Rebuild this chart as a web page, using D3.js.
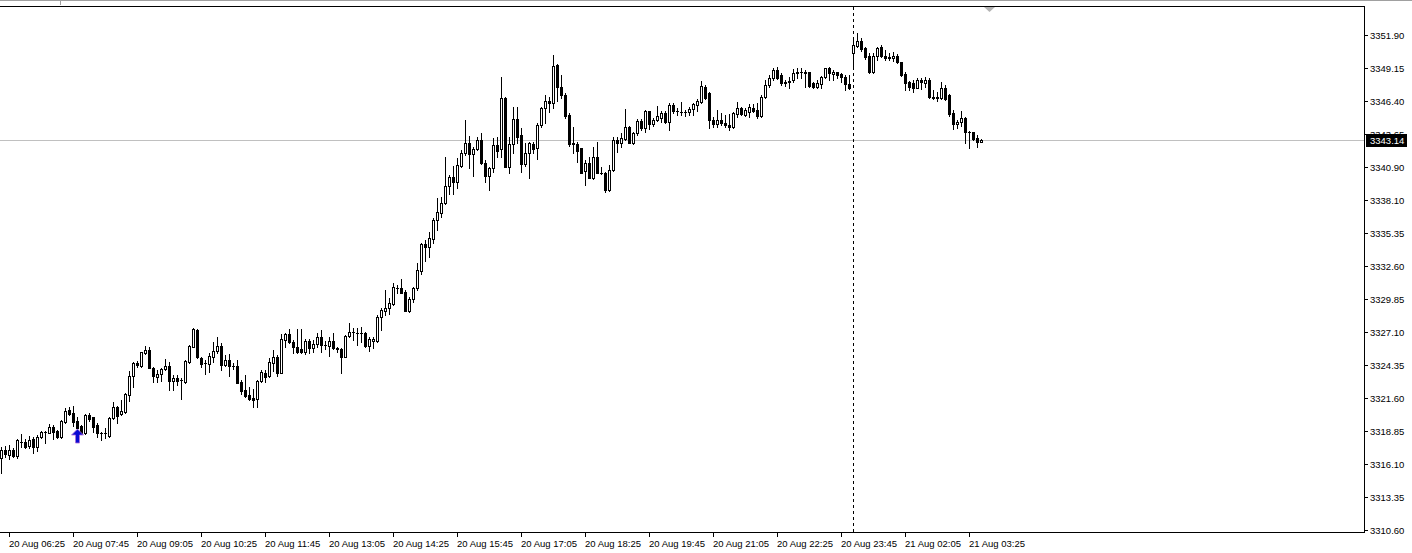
<!DOCTYPE html>
<html>
<head>
<meta charset="utf-8">
<script src="https://cdn.jsdelivr.net/npm/d3@7"></script>
<style>
  html, body { margin: 0; padding: 0; background: #fff; }
  svg { display: block; }
</style>
</head>
<body>
<div id="chart"></div>
<script>
// XAUUSD M5, 20 Aug 06:15 -> 21 Aug 03:40 (bar index 0..245)
const opens = [3316.61,3317.28,3316.86,3317.28,3316.78,3317.94,3317.94,3317.61,3318.20,3317.53,
3318.37,3318.78,3318.70,3319.20,3318.87,3318.37,3319.61,3320.61,3320.36,3319.70,
3319.28,3318.70,3320.19,3320.03,3319.36,3318.70,3318.70,3318.45,3319.95,3320.86,
3320.28,3320.44,3321.86,3323.45,3324.54,3324.29,3325.37,3325.62,3324.12,3323.37,
3323.62,3324.04,3324.29,3323.04,3323.29,3323.12,3322.95,3324.62,3325.87,3327.29,
3324.95,3324.54,3324.45,3325.04,3325.54,3325.95,3324.37,3324.79,3324.29,3324.29,
3322.95,3322.28,3321.86,3321.62,3321.53,3323.04,3323.70,3323.45,3324.54,3325.04,
3323.70,3326.45,3326.95,3326.28,3325.87,3325.70,3325.45,3326.37,3325.79,3326.12,
3326.70,3326.03,3325.95,3326.37,3325.79,3325.70,3325.04,3326.78,3327.12,3327.04,
3327.04,3327.04,3325.95,3326.37,3326.37,3328.37,3328.87,3329.12,3329.46,3330.80,
3330.80,3330.46,3328.87,3329.87,3330.80,3332.21,3334.46,3334.21,3334.88,3336.47,
3337.05,3337.88,3339.30,3340.05,3339.63,3340.97,3342.06,3342.89,3341.97,3342.39,
3343.14,3341.22,3340.14,3340.80,3342.72,3342.39,3346.65,3340.89,3342.81,3344.89,
3343.56,3341.14,3342.06,3342.81,3342.47,3344.39,3345.81,3346.40,3346.23,3349.40,
3347.56,3346.90,3345.23,3342.89,3342.81,3342.47,3340.55,3341.22,3339.97,3341.72,
3340.39,3340.39,3338.97,3340.64,3343.14,3342.89,3343.22,3344.22,3342.89,3343.72,
3344.72,3344.14,3345.56,3344.47,3344.81,3344.97,3345.39,3344.64,3346.06,3345.56,
3345.48,3345.48,3345.48,3345.73,3346.06,3346.31,3347.56,3347.06,3344.81,3344.47,
3344.81,3344.56,3344.39,3344.22,3345.31,3345.81,3345.23,3345.48,3345.81,3345.64,
3345.14,3346.73,3347.73,3348.32,3348.98,3348.57,3347.98,3348.07,3348.15,3348.73,
3348.82,3348.73,3348.82,3347.90,3347.56,3347.81,3348.40,3349.15,3348.65,3348.82,
3348.65,3348.40,3347.81,3350.40,3350.98,3351.40,3350.82,3350.15,3348.82,3350.15,
3350.90,3350.15,3350.07,3349.98,3350.15,3349.65,3348.65,3347.98,3347.90,3347.48,
3348.15,3347.90,3348.15,3346.73,3346.65,3346.65,3347.48,3346.90,3345.39,3344.47,
3344.64,3344.97,3343.81,3343.81,3343.31,3342.98];

const highs = [3317.53,3317.61,3317.69,3317.44,3318.20,3318.62,3318.20,3318.45,3318.37,3318.53,
3318.87,3318.87,3319.45,3319.36,3318.95,3319.78,3320.78,3320.86,3320.94,3320.03,
3319.36,3320.28,3320.36,3320.03,3319.53,3318.78,3319.11,3320.03,3321.28,3320.94,
3321.45,3322.03,3323.87,3324.62,3324.70,3325.45,3325.95,3325.87,3324.20,3323.95,
3324.12,3324.87,3324.62,3323.54,3323.54,3323.29,3324.79,3326.03,3327.45,3327.37,
3325.04,3324.79,3325.37,3326.28,3326.70,3326.20,3325.20,3325.29,3324.54,3324.79,
3323.12,3323.54,3322.53,3322.36,3323.12,3323.95,3323.95,3324.95,3325.62,3325.20,
3326.95,3327.04,3327.37,3326.45,3327.37,3327.37,3326.53,3326.53,3326.45,3327.04,
3327.29,3326.37,3326.70,3327.04,3325.87,3325.79,3326.87,3327.87,3327.45,3327.45,
3327.54,3327.12,3326.70,3326.70,3328.54,3329.12,3330.63,3329.96,3331.21,3331.05,
3331.54,3330.63,3330.04,3330.88,3332.88,3334.55,3334.80,3335.46,3336.63,3338.30,
3338.38,3341.72,3340.22,3340.97,3341.64,3342.31,3344.81,3343.47,3342.56,3343.39,
3343.72,3341.47,3340.89,3343.31,3343.39,3348.40,3346.73,3343.39,3345.89,3345.89,
3344.14,3342.89,3342.98,3342.98,3344.56,3345.89,3346.90,3346.73,3350.23,3349.48,
3348.57,3347.06,3345.39,3344.22,3342.98,3342.47,3341.47,3341.72,3342.56,3342.98,
3340.89,3340.47,3341.05,3343.39,3343.39,3343.72,3345.73,3344.31,3343.81,3344.89,
3344.89,3345.64,3345.56,3344.97,3345.98,3345.56,3345.56,3346.23,3346.23,3345.81,
3346.31,3345.64,3345.89,3346.23,3346.56,3348.07,3347.73,3347.15,3345.06,3345.64,
3345.39,3345.23,3345.31,3345.48,3346.31,3345.89,3345.81,3346.15,3346.15,3346.23,
3346.90,3348.15,3348.57,3349.15,3349.23,3348.73,3348.15,3348.40,3349.06,3349.15,
3349.15,3348.98,3348.82,3347.98,3348.15,3348.48,3349.15,3349.23,3348.98,3348.82,
3348.73,3348.57,3348.57,3351.48,3352.07,3351.65,3350.90,3350.40,3350.40,3350.90,
3351.07,3350.65,3350.40,3350.48,3350.32,3349.65,3348.82,3348.07,3348.15,3348.32,
3348.32,3348.40,3348.32,3347.31,3347.14,3347.98,3347.73,3346.98,3345.64,3344.81,
3345.56,3345.06,3343.89,3343.81,3343.56,3343.22];

const lows = [3315.36,3316.70,3316.53,3316.70,3316.61,3317.53,3317.44,3317.44,3317.03,3317.20,
3318.28,3317.86,3318.70,3318.20,3318.28,3318.28,3319.53,3320.19,3319.28,3319.11,
3318.62,3318.62,3319.70,3318.78,3318.37,3318.11,3318.28,3318.37,3319.86,3319.53,
3320.19,3320.36,3321.37,3322.53,3324.20,3324.20,3325.29,3324.12,3322.95,3322.95,
3323.04,3323.95,3322.28,3322.28,3322.70,3321.53,3322.87,3324.54,3325.87,3324.95,
3324.20,3323.62,3323.79,3324.62,3325.37,3323.95,3324.29,3323.45,3324.04,3322.87,
3321.95,3321.70,3321.45,3320.86,3320.86,3322.95,3322.95,3323.37,3323.87,3323.45,
3323.70,3325.87,3326.20,3325.37,3325.37,3325.37,3325.29,3325.37,3325.45,3325.87,
3325.45,3325.70,3325.12,3325.70,3325.45,3323.70,3325.04,3326.70,3326.45,3326.03,
3326.28,3325.87,3325.54,3325.79,3326.28,3327.29,3328.54,3328.62,3329.37,3330.38,
3330.38,3328.87,3328.79,3329.62,3330.63,3331.96,3333.05,3333.38,3334.55,3335.63,
3336.72,3337.80,3338.63,3338.63,3339.13,3340.89,3341.89,3340.80,3340.14,3342.31,
3341.14,3339.63,3338.97,3340.47,3341.72,3341.72,3340.89,3340.39,3342.06,3342.89,
3340.47,3340.97,3339.97,3342.06,3341.55,3344.22,3344.56,3345.48,3345.81,3346.40,
3346.65,3344.97,3342.64,3342.06,3341.31,3340.39,3339.39,3339.97,3339.89,3340.39,
3340.30,3338.80,3338.88,3340.55,3342.14,3342.56,3343.14,3342.89,3342.81,3343.56,
3343.97,3343.81,3344.06,3344.31,3344.72,3344.64,3344.56,3343.97,3345.39,3345.23,
3345.23,3345.14,3345.23,3345.23,3345.56,3346.23,3346.56,3344.14,3344.22,3344.22,
3344.39,3344.22,3343.97,3344.14,3345.06,3345.23,3345.14,3345.06,3345.48,3344.97,
3345.06,3346.65,3347.56,3348.15,3348.23,3347.73,3347.65,3347.48,3347.98,3348.32,
3348.32,3347.56,3347.56,3347.48,3347.48,3347.48,3348.32,3348.15,3348.15,3348.32,
3347.98,3347.31,3347.39,3349.15,3350.90,3350.57,3349.90,3348.73,3348.73,3349.81,
3350.07,3349.81,3349.81,3349.73,3349.56,3348.49,3347.31,3347.31,3347.15,3347.48,
3347.39,3347.56,3346.65,3346.56,3346.40,3346.56,3346.48,3345.14,3344.06,3344.14,
3344.31,3342.89,3342.47,3343.14,3342.56,3342.98];

const closes = [3317.28,3316.95,3317.28,3316.78,3318.11,3317.94,3317.53,3318.11,3317.53,3318.37,
3318.78,3318.78,3319.20,3318.78,3318.37,3319.70,3320.53,3320.28,3319.61,3319.11,
3318.70,3320.19,3319.86,3319.20,3318.70,3318.70,3318.70,3319.95,3320.86,3320.11,
3320.53,3321.95,3323.45,3324.54,3324.37,3325.45,3325.62,3324.12,3323.45,3323.62,
3324.04,3324.29,3323.04,3323.29,3323.04,3323.12,3324.70,3325.95,3327.37,3325.04,
3324.45,3324.54,3325.12,3325.54,3325.95,3324.37,3324.79,3324.29,3324.29,3322.87,
3322.20,3321.78,3321.53,3321.45,3323.04,3323.79,3323.37,3324.62,3325.04,3323.70,
3326.53,3326.95,3326.28,3325.87,3325.45,3325.45,3326.37,3325.79,3326.12,3326.70,
3326.03,3326.03,3326.37,3325.79,3325.70,3325.04,3326.78,3327.12,3327.12,3327.04,
3327.04,3325.95,3326.53,3326.53,3328.37,3328.96,3329.12,3329.54,3330.88,3330.80,
3330.38,3328.87,3329.87,3330.80,3332.29,3334.46,3334.21,3334.96,3336.47,3337.13,
3337.88,3339.30,3340.05,3339.63,3341.05,3342.06,3342.89,3341.97,3342.39,3343.14,
3341.22,3340.14,3340.80,3342.72,3342.22,3346.65,3340.89,3342.81,3344.89,3343.39,
3341.14,3342.06,3342.89,3342.39,3344.39,3345.81,3346.40,3346.23,3349.31,3347.56,
3346.90,3345.14,3342.81,3342.81,3342.22,3340.39,3341.22,3339.97,3341.72,3340.39,
3340.39,3338.97,3340.64,3343.14,3342.89,3343.31,3344.22,3342.89,3343.72,3344.72,
3344.14,3345.56,3344.47,3344.81,3345.14,3345.39,3344.64,3346.06,3345.56,3345.56,
3345.48,3345.48,3345.73,3346.15,3346.40,3347.65,3346.65,3344.81,3344.47,3344.81,
3344.56,3344.39,3344.22,3345.39,3345.81,3345.31,3345.64,3345.89,3345.56,3345.14,
3346.73,3347.73,3348.32,3348.98,3348.32,3347.90,3347.90,3347.98,3348.73,3348.82,
3348.82,3348.82,3347.65,3347.56,3347.90,3348.40,3349.15,3348.73,3348.82,3348.57,
3348.40,3347.81,3347.48,3351.07,3351.40,3350.73,3350.07,3348.82,3350.15,3350.82,
3350.15,3349.98,3349.98,3350.15,3349.65,3348.57,3347.90,3347.56,3347.48,3348.15,
3347.98,3348.15,3346.73,3346.65,3346.73,3347.48,3346.56,3345.31,3344.47,3344.64,
3344.97,3343.81,3343.81,3343.22,3342.98,3343.14];

const priceTicks = ["3351.90","3349.15","3346.40","3343.65","3340.90","3338.10","3335.35","3332.60",
  "3329.85","3327.10","3324.35","3321.60","3318.85","3316.10","3313.35","3310.60"];

const timeLabels = ["20 Aug 06:25","20 Aug 07:45","20 Aug 09:05","20 Aug 10:25","20 Aug 11:45",
  "20 Aug 13:05","20 Aug 14:25","20 Aug 15:45","20 Aug 17:05","20 Aug 18:25","20 Aug 19:45",
  "20 Aug 21:05","20 Aug 22:25","20 Aug 23:45","21 Aug 02:05","21 Aug 03:25"];
const timeLabelBars = [2,18,34,50,66,82,98,114,130,146,162,178,194,210,226,242];

const bidPrice = 3343.14;
const separatorBar = 213;   // first bar of 21 Aug
const arrowBar = 19;
const arrowPrice = 3319.05;

const W = 1412, H = 553;
const plotRight = 1364, plotTop = 6, plotBottom = 532;
const fontFamily = "'Liberation Sans', Arial, sans-serif";

const bars = closes.map((c, i) => ({ i: i, o: opens[i], h: highs[i], l: lows[i], c: c }));

const svg = d3.select("#chart")
  .append("svg")
  .attr("width", W)
  .attr("height", H)
  .attr("shape-rendering", "crispEdges");

svg.append("rect").attr("width", W).attr("height", H).attr("fill", "#fff");

const x = d3.scaleLinear()
  .domain([0, bars.length - 1])
  .range([1, 1 + 4 * (bars.length - 1)]);

const y = d3.scaleLinear()
  .domain([3310.60, 3351.90])
  .range([530, 35]);

const py = v => Math.round(y(v));

// top window edge + frame
svg.append("line")
  .attr("x1", 0).attr("x2", W).attr("y1", 0.5).attr("y2", 0.5)
  .attr("stroke", "#a0a0a0");
svg.append("line")
  .attr("x1", 60.5).attr("x2", 60.5).attr("y1", 0).attr("y2", 5)
  .attr("stroke", "#a0a0a0");

const frame = svg.append("g").attr("stroke", "#000").attr("fill", "none");
frame.append("path")
  .attr("d", `M0,${plotTop + 0.5}H${plotRight + 0.5}V${plotBottom + 0.5}H0`);

// chart shift marker
svg.append("path")
  .attr("d", `M984,${plotTop + 1}L995,${plotTop + 1}L989.5,${plotTop + 6}Z`)
  .attr("fill", "#b4b4b4")
  .attr("shape-rendering", "auto");

// bid line
svg.append("line")
  .attr("x1", 0).attr("x2", plotRight)
  .attr("y1", py(bidPrice) + 0.5).attr("y2", py(bidPrice) + 0.5)
  .attr("stroke", "#c0c0c0");

// day separator
svg.append("line")
  .attr("x1", x(separatorBar) + 0.5).attr("x2", x(separatorBar) + 0.5)
  .attr("y1", plotTop + 1).attr("y2", plotBottom)
  .attr("stroke", "#000")
  .attr("stroke-dasharray", "3,3");

// candles
const candles = svg.append("g").attr("class", "candles");

candles.selectAll("line.wick")
  .data(bars)
  .join("line")
  .attr("class", "wick")
  .attr("x1", d => x(d.i) + 0.5)
  .attr("x2", d => x(d.i) + 0.5)
  .attr("y1", d => py(d.h))
  .attr("y2", d => py(d.l) + 1)
  .attr("stroke", "#000");

candles.selectAll("rect.body")
  .data(bars.filter(d => py(d.o) !== py(d.c)))
  .join("rect")
  .attr("class", "body")
  .attr("x", d => x(d.i) - 0.5)
  .attr("y", d => Math.min(py(d.o), py(d.c)) + 0.5)
  .attr("width", 2)
  .attr("height", d => Math.abs(py(d.o) - py(d.c)))
  .attr("fill", d => d.c > d.o ? "#fff" : "#000")
  .attr("stroke", "#000");

candles.selectAll("line.doji")
  .data(bars.filter(d => py(d.o) === py(d.c)))
  .join("line")
  .attr("class", "doji")
  .attr("x1", d => x(d.i) - 1)
  .attr("x2", d => x(d.i) + 2)
  .attr("y1", d => py(d.c) + 0.5)
  .attr("y2", d => py(d.c) + 0.5)
  .attr("stroke", "#000");

// buy arrow
const ax = x(arrowBar) + 0.5, ay = py(arrowPrice);
svg.append("path")
  .attr("d", `M${ax},${ay} L${ax + 6},${ay + 6} L${ax + 2},${ay + 6} L${ax + 2},${ay + 14} L${ax - 2},${ay + 14} L${ax - 2},${ay + 6} L${ax - 6},${ay + 6} Z`)
  .attr("fill", "#0a0ad2")
  .attr("stroke", "#b070d8")
  .attr("stroke-width", 0.8)
  .attr("shape-rendering", "auto");

// price axis
const yAxis = svg.append("g")
  .attr("transform", `translate(${plotRight},0)`)
  .attr("font-family", fontFamily)
  .attr("font-size", "9.5px");

const tickG = yAxis.selectAll("g.tick")
  .data(priceTicks)
  .join("g")
  .attr("class", "tick")
  .attr("transform", d => `translate(0,${py(+d)})`);
tickG.append("line")
  .attr("x1", 0).attr("x2", 4)
  .attr("y1", 0.5).attr("y2", 0.5)
  .attr("stroke", "#000");
tickG.append("text")
  .attr("x", 6)
  .attr("y", 4)
  .attr("fill", "#000")
  .text(d => d);

// current price label
const bidY = py(bidPrice);
yAxis.append("rect")
  .attr("x", 2).attr("y", bidY - 6)
  .attr("width", 41).attr("height", 13)
  .attr("fill", "#000");
yAxis.append("text")
  .attr("x", 6).attr("y", bidY + 4)
  .attr("fill", "#fff")
  .text(bidPrice.toFixed(2));

// time axis
const xAxis = svg.append("g")
  .attr("font-family", fontFamily)
  .attr("font-size", "9.5px");

const xt = xAxis.selectAll("g.tick")
  .data(timeLabels)
  .join("g")
  .attr("class", "tick")
  .attr("transform", (d, k) => `translate(${x(timeLabelBars[k])},${plotBottom})`);
xt.append("line")
  .attr("x1", 0.5).attr("x2", 0.5)
  .attr("y1", 0).attr("y2", 5)
  .attr("stroke", "#000");
xt.append("text")
  .attr("x", 0)
  .attr("y", 15)
  .attr("fill", "#000")
  .text(d => d);
</script>
</body>
</html>
